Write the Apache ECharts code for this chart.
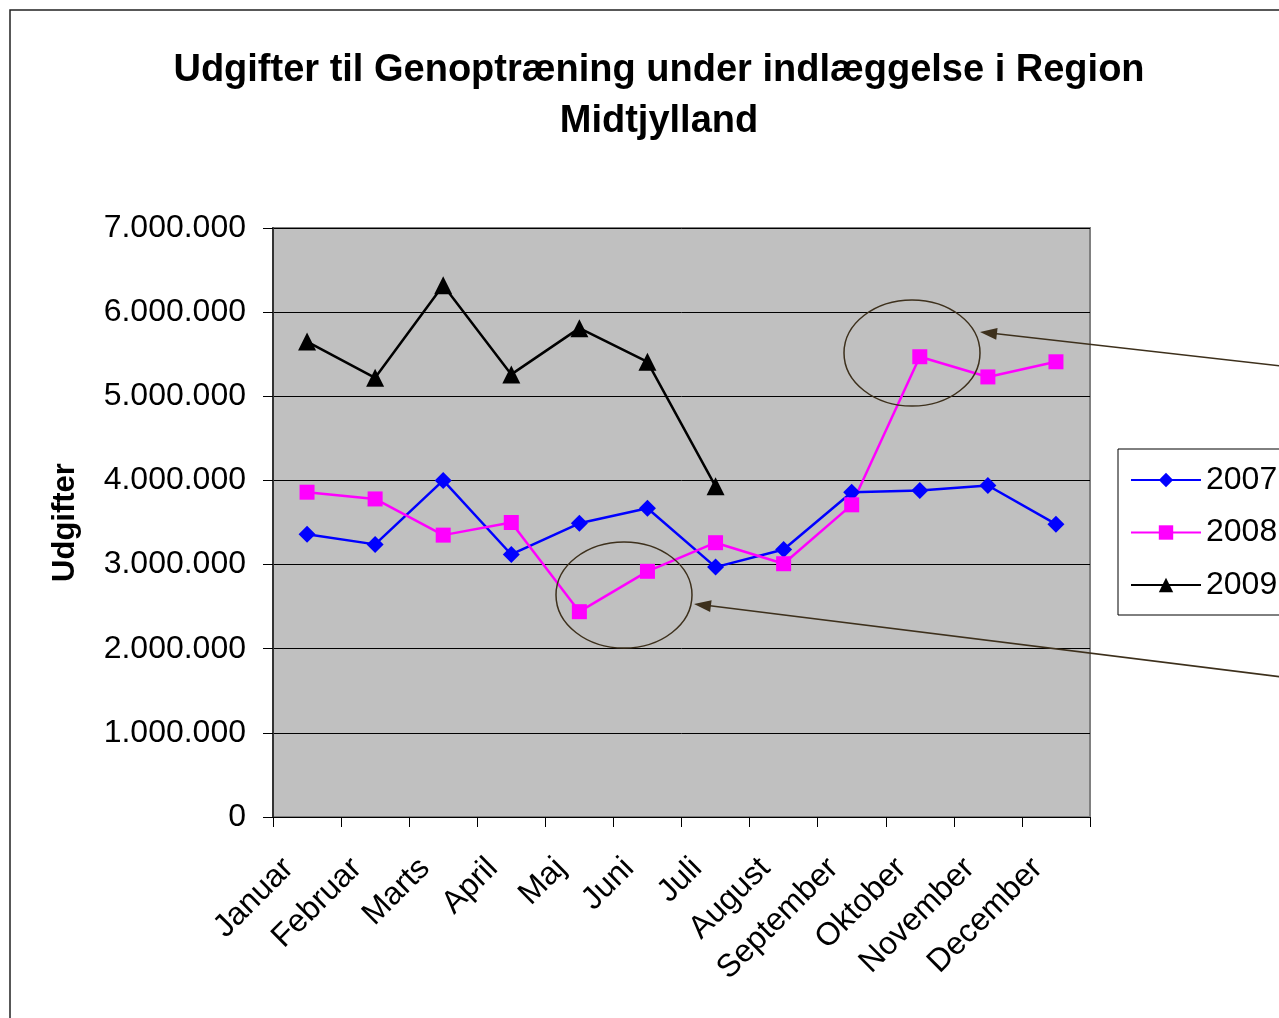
<!DOCTYPE html>
<html>
<head>
<meta charset="utf-8">
<script src="https://cdn.jsdelivr.net/npm/echarts@6/dist/echarts.min.js"></script>
<style>
  html, body { margin: 0; padding: 0; background: #fff; }
  #main { width: 1279px; height: 1018px; }
</style>
</head>
<body>
<div id="main"></div>
<script>
var months = ['Januar', 'Februar', 'Marts', 'April', 'Maj', 'Juni', 'Juli', 'August', 'September', 'Oktober', 'November', 'December'];
var y2007 = [3360000, 3240000, 4000000, 3120000, 3490000, 3670000, 2970000, 3180000, 3860000, 3880000, 3940000, 3480000];
var y2008 = [3860000, 3780000, 3350000, 3500000, 2440000, 2920000, 3260000, 3010000, 3710000, 5470000, 5230000, 5410000];
var y2009 = [5650000, 5220000, 6320000, 5260000, 5810000, 5410000, 3930000];

var myChart = echarts.init(document.getElementById('main'));
var font = 'Liberation Sans, Arial, sans-serif';
var annoColor = '#3d301c';

// pilehoved til annotationerne
function arrowHead(tail, tip) {
  var dx = tip[0] - tail[0], dy = tip[1] - tail[1];
  var len = Math.sqrt(dx * dx + dy * dy);
  var ux = dx / len, uy = dy / len;
  var bx = tip[0] - ux * 17, by = tip[1] - uy * 17;
  return {
    type: 'polygon',
    shape: { points: [tip, [bx - uy * 6, by + ux * 6], [bx + uy * 6, by - ux * 6]] },
    style: { fill: annoColor },
    z: 100
  };
}

function dots(v) {
  return String(v).replace(/\B(?=(\d{3})+(?!\d))/g, '.');
}

var option = {
  backgroundColor: '#fff',
  animation: false,
  title: {
    text: 'Udgifter til Genoptræning under indlæggelse i Region\nMidtjylland',
    left: 654,
    textAlign: 'center',
    top: 40,
    textStyle: { fontFamily: font, fontSize: 38, fontWeight: 'bold', color: '#000', lineHeight: 51 }
  },
  legend: {
    left: 1118,
    top: 449,
    orient: 'vertical',
    backgroundColor: '#fff',
    borderColor: '#000',
    borderWidth: 1,
    padding: [15, 8, 14, 12],
    itemWidth: 70,
    itemHeight: 18,
    itemGap: 20.5,
    textStyle: { fontFamily: font, fontSize: 32, color: '#000', lineHeight: 32 },
    data: ['2007', '2008', '2009']
  },
  grid: {
    left: 273,
    top: 228,
    right: 189,
    bottom: 201,
    show: true,
    backgroundColor: '#c0c0c0',
    borderColor: '#808080',
    borderWidth: 2
  },
  xAxis: {
    type: 'category',
    data: months,
    boundaryGap: true,
    axisLine: { lineStyle: { color: '#000', width: 1 } },
    axisTick: { show: true, length: 10, lineStyle: { color: '#000' } },
    axisLabel: {
      rotate: 45, margin: 28, padding: [0, 26, 0, 0],
      fontFamily: font, fontSize: 32, color: '#000', interval: 0
    }
  },
  yAxis: {
    type: 'value',
    min: 0,
    max: 7000000,
    interval: 1000000,
    name: 'Udgifter',
    nameLocation: 'middle',
    nameGap: 192,
    nameTextStyle: { fontFamily: font, fontSize: 31, fontWeight: 'bold', color: '#000' },
    axisLine: { show: true, lineStyle: { color: '#333', width: 2 } },
    axisTick: { show: true, length: 10, lineStyle: { color: '#000' } },
    axisLabel: { margin: 27, fontFamily: font, fontSize: 32, color: '#000', formatter: dots },
    splitLine: { lineStyle: { color: '#000', width: 1 } }
  },
  series: [
    {
      name: '2007',
      type: 'line',
      data: y2007,
      symbol: 'diamond',
      symbolSize: 17,
      color: '#0000ff',
      lineStyle: { width: 2.5, color: '#0000ff' },
      itemStyle: { color: '#0000ff' }
    },
    {
      name: '2008',
      type: 'line',
      data: y2008,
      symbol: 'rect',
      symbolSize: 15,
      color: '#ff00ff',
      lineStyle: { width: 2.5, color: '#ff00ff' },
      itemStyle: { color: '#ff00ff' }
    },
    {
      name: '2009',
      type: 'line',
      data: y2009,
      symbol: 'triangle',
      symbolSize: 18,
      color: '#000',
      lineStyle: { width: 2.5, color: '#000' },
      itemStyle: { color: '#000' }
    }
  ],
  graphic: [
    {
      type: 'rect',
      shape: { x: 10, y: 10, width: 1400, height: 1100 },
      style: { fill: 'none', stroke: '#222', lineWidth: 1.5 },
      z: -1
    },
    {
      type: 'ellipse',
      shape: { cx: 624, cy: 595, rx: 68, ry: 53 },
      style: { fill: 'none', stroke: annoColor, lineWidth: 1.5 },
      z: 100
    },
    {
      type: 'ellipse',
      shape: { cx: 912, cy: 353, rx: 68, ry: 53 },
      style: { fill: 'none', stroke: annoColor, lineWidth: 1.5 },
      z: 100
    },
    {
      type: 'line',
      shape: { x1: 1282, y1: 366, x2: 990, y2: 333 },
      style: { stroke: annoColor, lineWidth: 1.5 },
      z: 100
    },
    arrowHead([1282, 366], [980, 332]),
    {
      type: 'line',
      shape: { x1: 1282, y1: 677, x2: 704, y2: 605 },
      style: { stroke: annoColor, lineWidth: 1.5 },
      z: 100
    },
    arrowHead([1282, 677], [694, 604])
  ]
};

option && myChart.setOption(option);
</script>
</body>
</html>
